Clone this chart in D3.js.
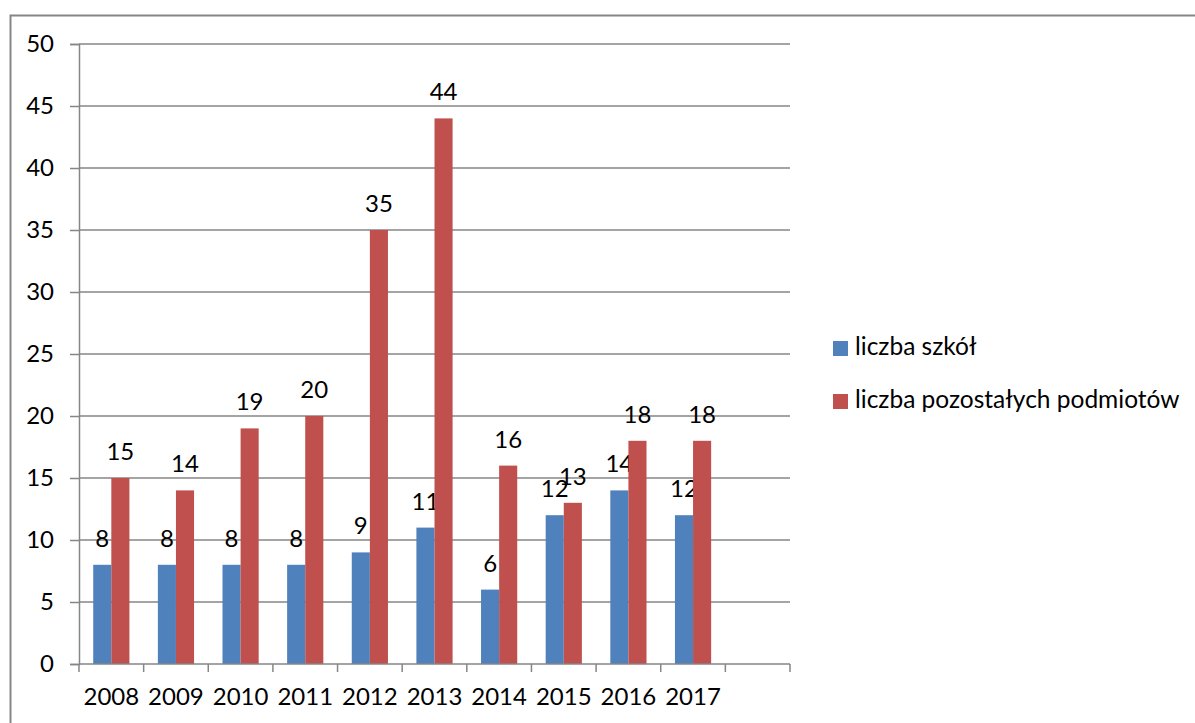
<!DOCTYPE html>
<html>
<head>
<meta charset="utf-8">
<script src="https://cdn.jsdelivr.net/npm/d3@7"></script>
<style>
  body { margin: 0; background: #fff; }
  text { font-family: Lato, "Open Sans", sans-serif; fill: #000; }
</style>
</head>
<body>
<svg id="chart" width="1195" height="723"></svg>
<script>
// data
var years = ['2008', '2009', '2010', '2011', '2012', '2013', '2014', '2015', '2016', '2017'];
var schools = [8, 8, 8, 8, 9, 11, 6, 12, 14, 12];
var others = [15, 14, 19, 20, 35, 44, 16, 13, 18, 18];
var seriesNames = ['liczba szkół', 'liczba pozostałych podmiotów'];
var seriesColors = ['#4F81BD', '#C0504D'];
var yTicks = [0, 5, 10, 15, 20, 25, 30, 35, 40, 45, 50];

(function () {
    var FONT = 24;
    var svg = d3.select("#chart");

    // outer chart border (runs off the right and bottom edges)
    svg.append("rect")
        .attr("x", 10.5).attr("y", 15.5)
        .attr("width", 1300).attr("height", 800)
        .style("fill", "none")
        .style("stroke", "#868686")
        .style("stroke-width", 2);

    var left = 79, right = 790, plotTop = 44, bottom = 664;

    // 11 slots, last one empty
    var slots = years.concat(['']);
    var x = d3.scaleBand().domain(slots).range([left, right]).padding(0);
    var y = d3.scaleLinear().domain([0, 50]).range([bottom, plotTop]);

    var groupW = x.bandwidth() * 0.56;
    var x1 = d3.scaleBand().domain([0, 1]).range([0, groupW]).padding(0);

    // gridlines
    svg.append("g").selectAll("line")
        .data(yTicks.filter(function (d) { return d > 0; }))
        .enter().append("line")
        .attr("x1", left).attr("x2", right)
        .attr("y1", function (d) { return y(d); })
        .attr("y2", function (d) { return y(d); })
        .attr("stroke", "#868686")
        .attr("stroke-width", 1.5);

    // y axis
    var yAxis = svg.append("g")
        .attr("transform", "translate(" + left + ",0)")
        .call(d3.axisLeft(y).tickValues(yTicks).tickSize(9).tickPadding(16));
    yAxis.select(".domain").attr("stroke", "#868686").attr("stroke-width", 1.5);
    yAxis.selectAll(".tick line").attr("stroke", "#868686").attr("stroke-width", 1.5);
    yAxis.selectAll(".tick text")
        .style("font-size", FONT + "px")
        .style("font-family", "Lato")
        .attr("fill", "#000");

    // bars with value labels
    var series = [schools, others];
    series.forEach(function (vals, s) {
        var g = svg.append("g");
        var bx = function (d, i) { return x(years[i]) + (x.bandwidth() - groupW) / 2 + x1(s); };
        g.selectAll("rect")
            .data(vals)
            .enter().append("rect")
            .attr("x", bx)
            .attr("width", x1.bandwidth())
            .attr("y", function (d) { return y(d); })
            .attr("height", function (d) { return bottom - y(d); })
            .style("fill", seriesColors[s]);
        g.selectAll("text")
            .data(vals)
            .enter().append("text")
            .attr("x", function (d, i) { return bx(d, i) + x1.bandwidth() / 2; })
            .attr("y", function (d) { return y(d) - 18; })
            .attr("text-anchor", "middle")
            .style("font-size", FONT + "px")
            .text(function (d) { return d; });
    });

    // x axis: line, ticks at slot boundaries, labels in the middle
    svg.append("line")
        .attr("x1", left).attr("x2", right)
        .attr("y1", bottom).attr("y2", bottom)
        .attr("stroke", "#868686").attr("stroke-width", 1.5);

    var bounds = slots.map(function (d) { return x(d); }).concat([right]);
    svg.append("g").selectAll("line")
        .data(bounds)
        .enter().append("line")
        .attr("x1", function (d) { return d; }).attr("x2", function (d) { return d; })
        .attr("y1", bottom).attr("y2", bottom + 8)
        .attr("stroke", "#868686").attr("stroke-width", 1.5);

    svg.append("g").selectAll("text")
        .data(years)
        .enter().append("text")
        .attr("x", function (d) { return x(d) + x.bandwidth() / 2; })
        .attr("y", 705)
        .attr("text-anchor", "middle")
        .style("font-size", FONT + "px")
        .text(function (d) { return d; });

    // legend
    var legend = svg.append("g").selectAll("g")
        .data(seriesNames)
        .enter().append("g")
        .attr("transform", function (d, i) { return "translate(833," + (341 + i * 53) + ")"; });
    legend.append("rect")
        .attr("width", 15).attr("height", 15)
        .style("fill", function (d, i) { return seriesColors[i]; });
    legend.append("text")
        .attr("x", 22).attr("y", 14)
        .style("font-size", "24.5px")
        .text(function (d) { return d; });
})();
</script>
</body>
</html>
